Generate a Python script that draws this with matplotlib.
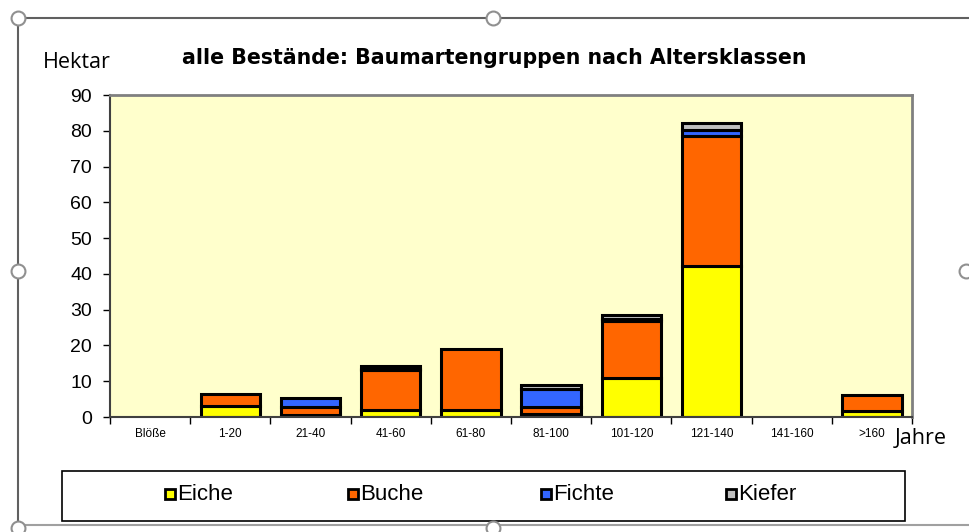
import matplotlib
matplotlib.use("Agg")
import matplotlib.pyplot as plt
import numpy as np
from matplotlib.patches import Rectangle
from matplotlib.lines import Line2D

plt.rcParams['font.family'] = ['Liberation Sans', 'DejaVu Sans']

categories = ["Blöße", "1-20", "21-40", "41-60", "61-80", "81-100",
              "101-120", "121-140", "141-160", ">160"]
eiche  = [0, 3.0, 0.5, 2.0, 2.0, 0.7, 10.8, 42.2, 0, 1.8]
buche  = [0, 3.3, 2.2, 11.0, 17.0, 2.0, 16.1, 36.3, 0, 4.4]
fichte = [0, 0, 2.5, 0.5, 0, 5.0, 0.5, 1.8, 0, 0]
kiefer = [0, 0, 0, 0.7, 0, 1.3, 1.0, 2.0, 0, 0]
series_names = ["Eiche", "Buche", "Fichte", "Kiefer"]
colors = ["#FFFF00", "#FF6600", "#3366FF", "#C0C0C0"]

W, H = 970, 532
fig = plt.figure(figsize=(W/100, H/100), dpi=100)

def fx(px): return px / W
def fy(py): return 1 - py / H

ax = fig.add_axes([fx(110), fy(417), fx(912) - fx(110), fy(95) - fy(417)])
ax.set_facecolor("#FFFFCC")

x = np.arange(len(categories))
bottom = np.zeros(len(categories))
for vals, col in zip([eiche, buche, fichte, kiefer], colors):
    v = np.array(vals, dtype=float)
    m = v > 0
    ax.bar(x[m], v[m], bottom=bottom[m], width=0.74, color=col,
           edgecolor="black", linewidth=2.2)
    bottom += v

ax.set_xlim(-0.5, len(categories) - 0.5)
ax.set_ylim(0, 90)
ax.set_yticks(np.arange(0, 91, 10))
ax.tick_params(axis='y', labelsize=14, length=5, width=1, colors='black', pad=8)
ax.set_xticks(np.arange(-0.5, len(categories), 1.0))
ax.set_xticklabels([])
ax.tick_params(axis='x', length=5, width=1)
for i, c in enumerate(categories):
    ax.text(i, -0.035, c, transform=ax.get_xaxis_transform(), ha='center',
            va='top', fontsize=8.5)

for s in ['top', 'right']:
    ax.spines[s].set_color("#808080")
    ax.spines[s].set_linewidth(2)
ax.spines['left'].set_color("#404040")
ax.spines['bottom'].set_color("#404040")
ax.spines['left'].set_linewidth(1.5)
ax.spines['bottom'].set_linewidth(1.5)

fig.text(fx(494), fy(58), "alle Bestände: Baumartengruppen nach Altersklassen",
         ha='center', va='center', fontsize=14.8, fontweight='bold',
         family=['DejaVu Sans'])
fig.text(fx(77), fy(63), "Hektar", ha='center', va='center', fontsize=15.5,
         family=['Open Sans', 'DejaVu Sans'])
fig.text(fx(921), fy(438), "Jahre", ha='center', va='center', fontsize=15.5,
         family=['Open Sans', 'DejaVu Sans'])

# legend box (entries placed along the box)
fig.patches.append(Rectangle((fx(62), fy(521)), fx(905) - fx(62), fy(471) - fy(521),
                             transform=fig.transFigure, fill=False,
                             edgecolor='black', linewidth=1.2))
leg_x = [170, 353, 546, 731]
for px, name, col in zip(leg_x, series_names, colors):
    fig.patches.append(Rectangle((fx(px - 5), fy(499)), fx(10), 10 / H,
                                 transform=fig.transFigure, facecolor=col,
                                 edgecolor='black', linewidth=2))
    fig.text(fx(px + 7), fy(494), name, ha='left', va='center', fontsize=16)

# outer chart frame with selection handles
frame_col = "#606060"
fig.lines.append(Line2D([fx(18), fx(970)], [fy(18), fy(18)], transform=fig.transFigure,
                        color=frame_col, linewidth=1.5))
fig.lines.append(Line2D([fx(18), fx(18)], [fy(18), fy(532)], transform=fig.transFigure,
                        color=frame_col, linewidth=1.5))
fig.lines.append(Line2D([fx(18), fx(970)], [fy(525), fy(525)], transform=fig.transFigure,
                        color="#A0A0A0", linewidth=1.5))
for (px, py) in [(18, 18), (493, 18), (18, 271), (966, 271), (493, 528), (18, 528)]:
    fig.lines.append(Line2D([fx(px)], [fy(py)], transform=fig.transFigure,
                            marker='o', markersize=10, markerfacecolor='white',
                            markeredgecolor='#909090', markeredgewidth=1.5))

fig.savefig("out.png", dpi=100)
